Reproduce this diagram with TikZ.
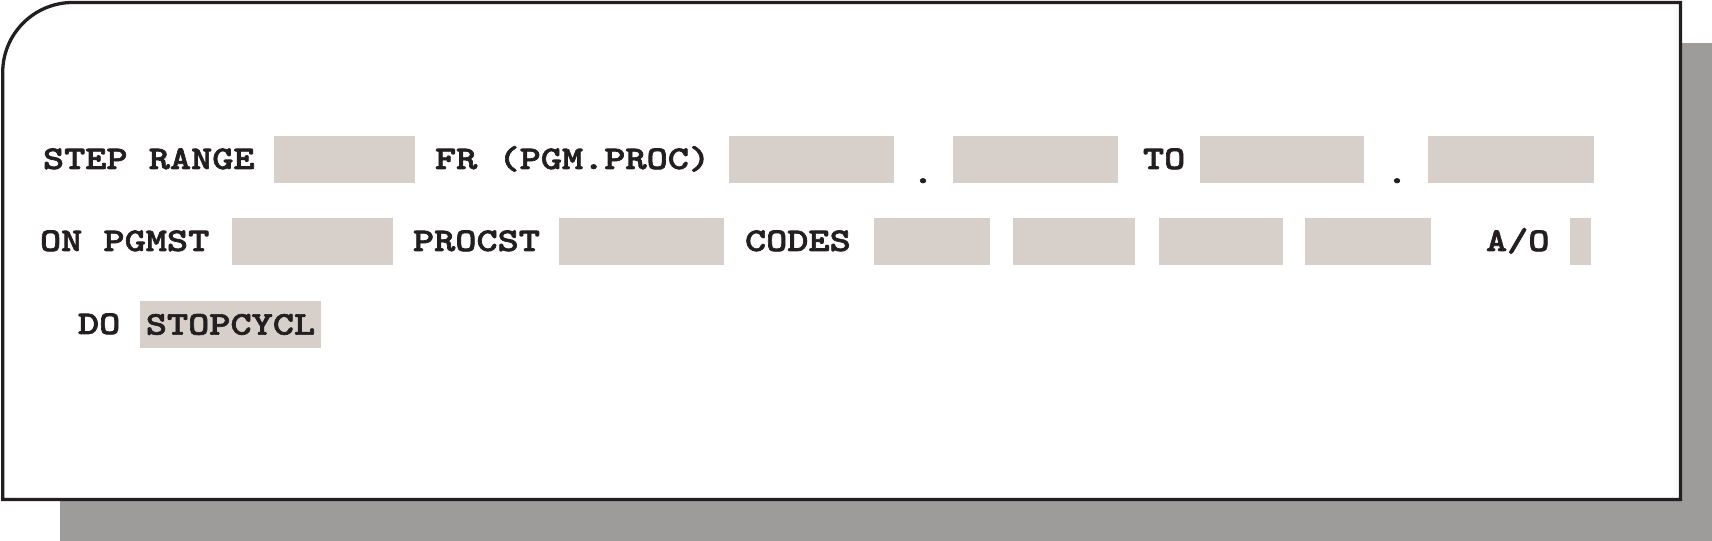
\documentclass[tikz,border=0pt]{standalone}
\usepackage{fontspec}
\newfontfamily\formfont{lmmonolt10-bold.otf}[FakeStretch=1.22,FakeBold=2]
\definecolor{fieldgray}{HTML}{D7CFC9}
\definecolor{shadowgray}{HTML}{9D9C9A}
\definecolor{inkblack}{HTML}{231F20}
\begin{document}
\begin{tikzpicture}[inner sep=0pt,outer sep=0pt,
field/.style={fill=fieldgray,anchor=north west,minimum height=0.47cm,text=inkblack,font=\formfont\fontsize{9.4pt}{12pt}\selectfont},
lbl/.style={anchor=base west,text=inkblack,font=\formfont\fontsize{9.4pt}{12pt}\selectfont},
frame/.style={draw=inkblack,line width=0.033cm,fill=white}]

\useasboundingbox (0,0) rectangle (17.12,-5.41);
\fill[shadowgray] (0.60,-0.43) rectangle (17.12,-5.41);
\draw[frame] (0.027,-4.995) -- (0.027,-0.725) arc (180:90:0.7) -- (16.805,-0.025) -- (16.805,-4.995) -- cycle;

\draw (0.43,-1.69) node[lbl] (step) {STEP RANGE};
\draw (2.74,-1.36) node[field,minimum width=1.41cm] (range) {};
\draw (4.35,-1.69) node[lbl] (from) {FR (PGM.PROC)};
\draw (7.29,-1.36) node[field,minimum width=1.65cm] (frompgm) {};
\draw (9.23,-1.83) node[lbl,anchor=base] (dot1) {.};
\draw (9.53,-1.36) node[field,minimum width=1.65cm] (fromproc) {};
\draw (11.43,-1.69) node[lbl] (to) {TO};
\draw (12.00,-1.36) node[field,minimum width=1.64cm] (topgm) {};
\draw (13.97,-1.83) node[lbl,anchor=base] (dot2) {.};
\draw (14.28,-1.36) node[field,minimum width=1.66cm] (toproc) {};

\draw (0.40,-2.51) node[lbl] (on) {ON PGMST};
\draw (2.32,-2.18) node[field,minimum width=1.61cm] (pgmst) {};
\draw (4.13,-2.51) node[lbl] (proc) {PROCST};
\draw (5.59,-2.18) node[field,minimum width=1.65cm] (procst) {};
\draw (7.45,-2.51) node[lbl] (codes) {CODES};
\draw (8.74,-2.18) node[field,minimum width=1.16cm] (code1) {};
\draw (10.13,-2.18) node[field,minimum width=1.22cm] (code2) {};
\draw (11.59,-2.18) node[field,minimum width=1.24cm] (code3) {};
\draw (13.05,-2.18) node[field,minimum width=1.26cm] (code4) {};
\draw (14.86,-2.51) node[lbl] (ao) {A/O};
\draw (15.70,-2.18) node[field,minimum width=0.21cm] (andor) {};

\draw (0.78,-3.34) node[lbl] (do) {DO};
\draw (1.40,-3.01) node[field,minimum width=1.81cm] (action) {STOPCYCL};
\end{tikzpicture}
\end{document}
